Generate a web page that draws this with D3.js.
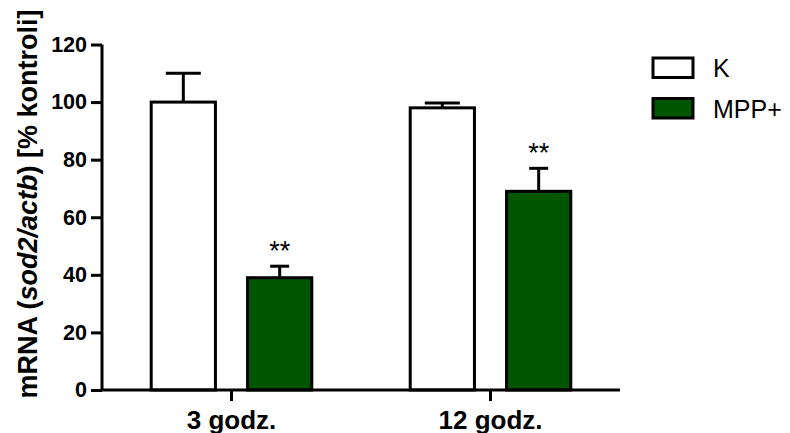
<!DOCTYPE html>
<html>
<head>
<meta charset="utf-8">
<script src="https://cdn.jsdelivr.net/npm/d3@7"></script>
<style>
  html, body { margin: 0; padding: 0; background: #fff; }
  svg { display: block; font-family: "Liberation Sans", Arial, sans-serif; }
</style>
</head>
<body>
<svg id="chart" width="790" height="433"></svg>
<script>
// Time points (groups) and treatment series
const groups = ["3 godz.", "12 godz."];
const series = ["K", "MPP+"];
// Mean expression, % of control, per series across the groups
const meanK = [100, 98];
const meanMPP = [39, 69];
// Standard error (upper bar only)
const semK = [10, 1.7];
const semMPP = [4, 8];
// Significance marks per series across the groups
const sigK = ["", ""];
const sigMPP = ["**", "**"];
const yTicks = [0, 20, 40, 60, 80, 100, 120];

const fills = { "K": "#ffffff", "MPP+": "#005500" };
const capWidth = { "K": 35, "MPP+": 19 };

const rows = [];
groups.forEach((g, i) => {
  rows.push({ group: g, series: "K", value: meanK[i], sem: semK[i], sig: sigK[i] });
  rows.push({ group: g, series: "MPP+", value: meanMPP[i], sem: semMPP[i], sig: sigMPP[i] });
});

const svg = d3.select("#chart");
const plotLeft = 102, plotRight = 620, plotTop = 44.5, plotBottom = 390;

const x0 = d3.scaleBand().domain(groups).range([plotLeft, plotRight])
  .paddingInner(0.38).paddingOuter(0.19);
const x1 = d3.scaleBand().domain(series).range([0, x0.bandwidth()])
  .paddingInner(1 / 3);
const y = d3.scaleLinear().domain([0, 120]).range([plotBottom, plotTop]);

// Bars
const bars = svg.append("g");
bars.selectAll("rect").data(rows).join("rect")
  .attr("x", d => x0(d.group) + x1(d.series))
  .attr("y", d => y(d.value))
  .attr("width", x1.bandwidth())
  .attr("height", d => y(0) - y(d.value))
  .attr("fill", d => fills[d.series])
  .attr("stroke", "#000")
  .attr("stroke-width", 3);

// Error bars (upper whisker with cap)
const err = svg.append("g").attr("stroke", "#000").attr("stroke-width", 3);
rows.forEach(d => {
  const cx = x0(d.group) + x1(d.series) + x1.bandwidth() / 2;
  err.append("line")
    .attr("x1", cx).attr("x2", cx)
    .attr("y1", y(d.value)).attr("y2", y(d.value + d.sem));
  err.append("line")
    .attr("x1", cx - capWidth[d.series] / 2).attr("x2", cx + capWidth[d.series] / 2)
    .attr("y1", y(d.value + d.sem)).attr("y2", y(d.value + d.sem));
});

// Significance asterisks
svg.append("g").selectAll("text").data(rows.filter(d => d.sig)).join("text")
  .attr("x", d => x0(d.group) + x1(d.series) + x1.bandwidth() / 2)
  .attr("y", d => y(d.value + d.sem) - 6)
  .attr("text-anchor", "middle")
  .attr("font-size", 27)
  .attr("fill", "#000")
  .text(d => d.sig);

// Y axis
const yAxis = svg.append("g")
  .attr("transform", `translate(${plotLeft},0)`)
  .call(d3.axisLeft(y).tickValues(yTicks).tickSize(11).tickSizeOuter(0).tickPadding(4));
yAxis.select(".domain").attr("stroke-width", 3).attr("d", `M0,${plotTop}V${plotBottom}`);
yAxis.selectAll(".tick line").attr("stroke-width", 3);
yAxis.selectAll(".tick text")
  .attr("font-size", 21.5).attr("font-weight", "bold").attr("fill", "#000")
  .attr("font-family", "'Liberation Sans', Arial, sans-serif");

// X axis
const xAxis = svg.append("g")
  .attr("transform", `translate(0,${plotBottom})`)
  .call(d3.axisBottom(x0).tickSize(11).tickSizeOuter(0).tickPadding(8));
xAxis.select(".domain").attr("stroke-width", 3).attr("d", `M${plotLeft - 1.5},0H${plotRight}`);
xAxis.selectAll(".tick line").attr("stroke-width", 3);
xAxis.selectAll(".tick text")
  .attr("font-size", 26).attr("font-weight", "bold").attr("fill", "#000")
  .attr("font-family", "'Liberation Sans', Arial, sans-serif")
  .attr("dy", "0.78em");

// Y axis title
const title = svg.append("text")
  .attr("transform", "translate(28,204) rotate(-90)")
  .attr("text-anchor", "middle")
  .attr("dominant-baseline", "central")
  .attr("font-size", 27)
  .attr("font-weight", "bold")
  .attr("fill", "#000");
title.append("tspan").text("mRNA (");
title.append("tspan").attr("font-style", "italic").text("sod2/actb");
title.append("tspan").text(") [% kontroli]");

// Legend
const legend = svg.append("g").attr("transform", "translate(653,58)");
series.forEach((s, i) => {
  const row = legend.append("g").attr("transform", `translate(0,${i * 40.5})`);
  row.append("rect")
    .attr("x", 0).attr("y", 0).attr("width", 40).attr("height", 19.5)
    .attr("fill", fills[s]).attr("stroke", "#000").attr("stroke-width", 3);
  row.append("text")
    .attr("x", 60).attr("y", 10)
    .attr("dominant-baseline", "central")
    .attr("font-size", 25)
    .attr("fill", "#000")
    .text(s);
});
</script>
</body>
</html>
